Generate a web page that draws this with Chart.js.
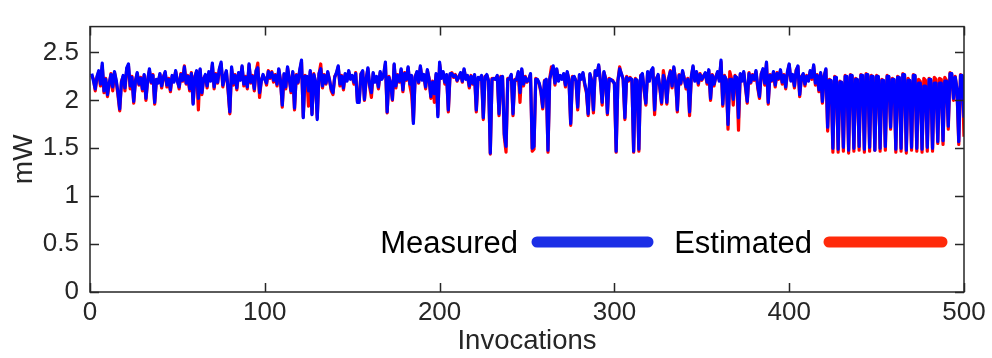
<!DOCTYPE html>
<html>
<head>
<meta charset="utf-8">
<script src="https://cdn.jsdelivr.net/npm/chart.js@4"></script>
<style>
html, body { margin: 0; padding: 0; background: #fff; }
#wrap { width: 992px; height: 358px; }
</style>
</head>
<body>
<div id="wrap"><canvas id="powerChart" width="992" height="358"></canvas></div>
<script>
// Potencia medida por invocacion (mW)
const measured = [
  2.28, 2.20, 2.12, 2.25, 2.31, 2.17, 2.39, 2.10, 2.22, 2.06,
  2.18, 2.27, 2.14, 2.30, 2.21, 2.08, 1.91, 2.19, 2.26, 2.13,
  2.34, 2.38, 2.15, 2.24, 1.99, 2.20, 2.29, 2.17, 2.23, 2.12,
  2.27, 2.02, 2.21, 2.33, 2.19, 2.26, 1.98, 2.22, 2.18, 2.28,
  2.15, 2.24, 2.30, 2.16, 2.22, 2.11, 2.26, 2.19, 2.31, 2.20,
  2.14, 2.27, 2.21, 2.35, 2.18, 2.25, 2.12, 2.28, 1.96, 2.24,
  2.31, 2.02, 2.33, 2.08, 2.22, 2.27, 2.15, 2.30, 2.20, 2.39,
  2.14, 2.27, 2.19, 2.33, 2.40, 2.16, 2.24, 2.31, 2.12, 1.88,
  2.35, 2.18, 2.26, 2.13, 2.29, 2.21, 2.36, 2.17, 2.24, 2.14,
  2.38, 2.19, 2.25, 2.12, 2.31, 2.34, 2.08, 2.20, 2.27, 2.22,
  2.18, 2.30, 2.24, 2.29, 2.21, 2.26, 2.17, 2.33, 2.20, 1.95,
  2.28, 2.14, 2.35, 2.22, 2.10, 2.30, 1.92, 2.26, 2.19, 2.32,
  2.42, 1.82, 2.25, 2.25, 2.10, 2.31, 1.85, 2.27, 2.20, 1.80,
  2.28, 2.33, 2.15, 2.26, 2.18, 2.30, 2.21, 2.12, 2.08, 2.24,
  2.29, 2.36, 2.17, 2.25, 2.13, 2.28, 2.20, 2.31, 2.22, 2.26,
  2.19, 2.28, 1.98, 1.98, 2.27, 2.31, 2.01, 2.22, 2.34, 2.16,
  2.08, 2.29, 2.19, 2.25, 2.14, 2.30, 2.22, 2.27, 2.40, 1.88,
  2.24, 2.18, 2.01, 2.38, 2.15, 2.26, 2.20, 2.33, 2.11, 2.28,
  2.22, 2.35, 2.17, 2.26, 1.76, 2.24, 2.30, 2.19, 2.36, 2.21,
  2.27, 2.14, 2.32, 2.22, 2.04, 2.19, 2.07, 2.28, 1.83, 2.40,
  2.23, 2.30, 2.19, 2.27, 1.90, 2.28, 2.28, 2.25, 2.26, 2.21,
  2.24, 2.29, 2.20, 2.33, 2.22, 2.26, 2.15, 2.25, 2.18, 2.27,
  1.90, 2.24, 2.22, 2.26, 1.82, 2.24, 2.27, 2.20, 1.45, 2.22,
  2.23, 2.22, 2.26, 1.86, 2.24, 2.25, 1.65, 1.52, 2.22, 2.23,
  2.27, 1.86, 2.21, 2.22, 2.30, 2.08, 2.33, 2.17, 2.24, 2.20,
  2.21, 2.28, 1.50, 1.52, 2.22, 2.22, 2.18, 2.10, 1.93, 2.20,
  2.22, 1.48, 2.22, 2.30, 2.36, 2.18, 2.33, 2.20, 2.26, 2.22,
  2.28, 2.16, 2.30, 2.21, 1.76, 2.24, 2.25, 2.20, 1.93, 2.27,
  2.22, 2.29, 2.18, 2.10, 1.86, 2.28, 2.20, 1.90, 2.31, 2.26,
  2.37, 2.20, 1.98, 2.30, 2.22, 1.87, 2.22, 2.22, 2.20, 2.18,
  1.47, 2.20, 2.33, 2.28, 2.22, 1.82, 2.24, 2.21, 2.23, 2.22,
  1.47, 2.22, 2.21, 1.49, 2.25, 2.28, 2.12, 1.97, 2.30, 2.20,
  2.31, 2.34, 1.90, 2.22, 2.27, 2.14, 1.98, 2.26, 2.20, 1.98,
  2.23, 2.30, 2.15, 2.35, 2.21, 1.90, 2.26, 2.18, 2.31, 2.22,
  2.14, 2.22, 1.88, 2.25, 2.36, 2.20, 2.30, 2.18, 2.27, 2.22,
  2.25, 2.29, 2.19, 2.32, 2.02, 2.26, 2.17, 2.24, 2.30, 2.20,
  2.42, 1.96, 2.25, 2.22, 1.75, 2.22, 2.22, 2.01, 2.25, 2.24,
  1.82, 2.28, 2.20, 2.30, 2.15, 1.99, 2.28, 2.19, 2.26, 2.22,
  2.31, 2.15, 2.04, 2.27, 2.33, 2.18, 2.40, 1.98, 2.26, 2.21,
  2.30, 2.16, 2.28, 2.23, 2.32, 2.19, 2.26, 2.14, 2.30, 2.38,
  2.20, 2.27, 2.15, 2.31, 2.36, 2.06, 2.24, 2.28, 2.17, 2.25,
  2.20, 2.31, 2.24, 2.37, 2.18, 2.26, 2.11, 2.29, 1.99, 2.25,
  2.33, 1.72, 2.21, 2.21, 1.50, 2.24, 2.24, 1.49, 2.19, 2.19,
  1.51, 2.25, 2.25, 1.48, 2.26, 2.26, 1.50, 2.22, 2.22, 1.52,
  2.26, 2.26, 1.49, 2.27, 2.27, 1.51, 2.25, 2.25, 1.48, 2.25,
  2.25, 1.50, 2.21, 2.21, 1.52, 2.25, 2.25, 1.72, 2.22, 2.22,
  1.49, 2.24, 2.24, 1.50, 2.27, 2.27, 1.48, 2.21, 2.21, 1.51,
  2.26, 2.26, 1.50, 2.18, 2.18, 1.49, 2.15, 2.15, 1.51, 2.22,
  2.22, 1.50, 2.18, 2.18, 1.57, 2.18, 2.18, 1.58, 2.20, 2.20,
  1.73, 2.28, 2.28, 2.02, 2.24, 2.12, 1.57, 2.26, 2.26, 1.82
];

// Potencia estimada por el modelo (mW)
const estimated = [
  2.26, 2.22, 2.10, 2.24, 2.30, 2.15, 2.36, 2.08, 2.23, 2.04,
  2.17, 2.28, 2.10, 2.29, 2.20, 2.05, 1.89, 2.20, 2.25, 2.10,
  2.33, 2.36, 2.12, 2.25, 1.97, 2.21, 2.28, 2.16, 2.24, 2.10,
  2.26, 2.00, 2.22, 2.31, 2.18, 2.27, 1.96, 2.21, 2.19, 2.27,
  2.13, 2.25, 2.29, 2.14, 2.23, 2.09, 2.25, 2.20, 2.30, 2.21,
  2.12, 2.28, 2.20, 2.36, 2.17, 2.26, 2.10, 2.29, 1.97, 2.25,
  2.30, 1.90, 2.32, 2.06, 2.23, 2.26, 2.13, 2.29, 2.21, 2.37,
  2.12, 2.28, 2.18, 2.32, 2.38, 2.14, 2.25, 2.30, 2.10, 1.86,
  2.33, 2.16, 2.27, 2.11, 2.28, 2.22, 2.35, 2.15, 2.25, 2.12,
  2.37, 2.18, 2.26, 2.10, 2.30, 2.39, 2.03, 2.21, 2.26, 2.23,
  2.16, 2.31, 2.23, 2.30, 2.19, 2.27, 2.15, 2.32, 2.21, 1.93,
  2.27, 2.12, 2.34, 2.23, 2.08, 2.29, 1.90, 2.27, 2.18, 2.31,
  2.40, 1.83, 2.26, 2.24, 1.94, 2.30, 1.86, 2.28, 2.19, 1.82,
  2.27, 2.38, 2.13, 2.27, 2.17, 2.29, 2.22, 2.10, 2.06, 2.25,
  2.28, 2.35, 2.15, 2.26, 2.11, 2.27, 2.21, 2.30, 2.23, 2.25,
  2.17, 2.29, 1.99, 2.00, 2.28, 2.30, 2.00, 2.23, 2.33, 2.14,
  2.03, 2.28, 2.20, 2.24, 2.12, 2.29, 2.23, 2.26, 2.38, 1.87,
  2.25, 2.17, 2.00, 2.37, 2.13, 2.27, 2.19, 2.32, 2.09, 2.29,
  2.21, 2.34, 2.15, 2.06, 1.78, 2.25, 2.29, 2.18, 2.35, 2.22,
  2.26, 2.12, 2.31, 2.23, 2.02, 2.20, 1.98, 2.27, 1.85, 2.38,
  2.24, 2.29, 2.17, 2.26, 1.88, 2.27, 2.29, 2.24, 2.27, 2.20,
  2.25, 2.28, 2.19, 2.32, 2.23, 2.25, 2.13, 2.26, 2.17, 2.26,
  1.88, 2.23, 2.23, 2.25, 1.80, 2.25, 2.26, 2.21, 1.44, 2.23,
  2.22, 2.23, 2.25, 1.84, 2.25, 2.24, 1.62, 1.46, 2.23, 2.22,
  2.26, 1.84, 2.22, 2.21, 2.29, 1.98, 2.32, 2.15, 2.25, 2.19,
  2.22, 2.27, 1.47, 1.49, 2.23, 2.21, 2.17, 2.08, 1.91, 2.21,
  2.21, 1.46, 2.23, 2.35, 2.34, 2.16, 2.32, 2.21, 2.25, 2.23,
  2.27, 2.14, 2.29, 2.22, 1.74, 2.25, 2.24, 2.21, 1.90, 2.26,
  2.23, 2.28, 2.16, 2.08, 1.84, 2.27, 2.21, 1.87, 2.30, 2.27,
  2.36, 2.21, 1.95, 2.29, 2.23, 1.85, 2.23, 2.21, 2.21, 2.17,
  1.46, 2.21, 2.35, 2.27, 2.23, 1.80, 2.25, 2.20, 2.24, 2.21,
  1.46, 2.23, 2.20, 1.47, 2.26, 2.27, 2.10, 1.95, 2.29, 2.21,
  2.30, 2.33, 1.85, 2.23, 2.26, 2.12, 1.96, 2.31, 2.21, 1.96,
  2.22, 2.31, 2.13, 2.34, 2.22, 1.88, 2.27, 2.17, 2.30, 2.23,
  2.12, 2.23, 1.84, 2.24, 2.35, 2.21, 2.29, 2.16, 2.28, 2.21,
  2.26, 2.28, 2.17, 2.31, 2.00, 2.27, 2.15, 2.25, 2.29, 2.21,
  2.40, 1.94, 2.26, 2.21, 1.70, 2.30, 2.23, 1.95, 2.26, 2.23,
  1.69, 2.27, 2.21, 2.29, 2.13, 1.97, 2.29, 2.18, 2.27, 2.21,
  2.30, 2.13, 2.02, 2.28, 2.32, 2.16, 2.39, 1.96, 2.27, 2.20,
  2.29, 2.14, 2.29, 2.22, 2.31, 2.17, 2.27, 2.12, 2.29, 2.37,
  2.21, 2.26, 2.13, 2.32, 2.35, 2.04, 2.25, 2.27, 2.15, 2.26,
  2.21, 2.30, 2.22, 2.36, 2.16, 2.27, 2.09, 2.28, 1.97, 2.26,
  2.32, 1.68, 2.22, 2.20, 1.46, 2.25, 2.23, 1.46, 2.20, 2.18,
  1.47, 2.26, 2.24, 1.45, 2.27, 2.25, 1.47, 2.23, 2.21, 1.48,
  2.27, 2.25, 1.46, 2.28, 2.26, 1.47, 2.26, 2.24, 1.48, 2.26,
  2.24, 1.47, 2.22, 2.20, 1.48, 2.26, 2.24, 1.70, 2.23, 2.21,
  1.46, 2.25, 2.23, 1.47, 2.28, 2.26, 1.45, 2.23, 2.20, 1.48,
  2.27, 2.25, 1.47, 2.22, 2.20, 1.46, 2.23, 2.21, 1.47, 2.23,
  2.21, 1.47, 2.24, 2.22, 1.55, 2.23, 2.22, 1.54, 2.24, 2.21,
  1.70, 2.29, 2.27, 2.00, 2.25, 2.10, 1.54, 2.27, 2.25, 1.62
];

const xTicks = [0, 100, 200, 300, 400, 500];
const yTicks = [0, 0.5, 1, 1.5, 2, 2.5];
const seriesNames = ['Measured', 'Estimated'];
const lineColors = ['#0000ff', '#ff0000'];
const legendColors = ['#1b2ee6', '#ff2a0a'];
const axisColor = '#262626';
const FONT = '"Liberation Sans", Arial, Helvetica, sans-serif';

// Marco completo con ticks hacia dentro (estilo MATLAB)
const boxPlugin = {
    id: 'boxAxes',
    afterDatasetsDraw(chart) {
        const { ctx, chartArea: a, scales: { x, y } } = chart;
        const len = 9;
        ctx.save();
        ctx.strokeStyle = axisColor;
        ctx.lineWidth = 1.5;
        ctx.strokeRect(a.left, a.top, a.right - a.left, a.bottom - a.top);
        ctx.beginPath();
        xTicks.forEach(v => {
            const px = Math.round(x.getPixelForValue(v)) + 0.5;
            ctx.moveTo(px, a.bottom); ctx.lineTo(px, a.bottom - len);
            ctx.moveTo(px, a.top); ctx.lineTo(px, a.top + len);
        });
        yTicks.forEach(v => {
            const py = Math.round(y.getPixelForValue(v)) + 0.5;
            ctx.moveTo(a.left, py); ctx.lineTo(a.left + len, py);
            ctx.moveTo(a.right, py); ctx.lineTo(a.right - len, py);
        });
        ctx.stroke();
        ctx.restore();
    }
};

// Leyenda: texto seguido de una linea gruesa
const legendPlugin = {
    id: 'lineLegend',
    afterDraw(chart) {
        const ctx = chart.ctx;
        const items = [
            { textEnd: 518, lineStart: 537, lineEnd: 648 },
            { textEnd: 812, lineStart: 829, lineEnd: 942 }
        ];
        ctx.save();
        ctx.font = '31px ' + FONT;
        ctx.textAlign = 'right';
        ctx.textBaseline = 'alphabetic';
        items.forEach((it, i) => {
            ctx.fillStyle = '#000';
            ctx.fillText(seriesNames[i], it.textEnd, 253);
            ctx.strokeStyle = legendColors[i];
            ctx.lineWidth = 11;
            ctx.lineCap = 'round';
            ctx.beginPath();
            ctx.moveTo(it.lineStart, 242);
            ctx.lineTo(it.lineEnd, 242);
            ctx.stroke();
        });
        ctx.restore();
    }
};

function toPoints(values) {
    return values.map((v, i) => ({ x: i + 1, y: v }));
}

document.addEventListener('DOMContentLoaded', function() {
    const ctx = document.getElementById('powerChart');
    new Chart(ctx, {
        type: 'line',
        data: {
            datasets: [
                { label: seriesNames[0], data: toPoints(measured), borderColor: lineColors[0], borderWidth: 3.2, pointRadius: 0, borderJoinStyle: 'round', tension: 0 },
                { label: seriesNames[1], data: toPoints(estimated), borderColor: lineColors[1], borderWidth: 3.2, pointRadius: 0, borderJoinStyle: 'round', tension: 0 }
            ]
        },
        options: {
            responsive: false,
            animation: false,
            devicePixelRatio: 1,
            layout: { padding: { top: 9, right: 28, left: 0, bottom: 0 } },
            plugins: { legend: { display: false }, tooltip: { enabled: false } },
            scales: {
                x: {
                    type: 'linear', min: 0, max: 500,
                    grid: { display: false, drawTicks: false },
                    border: { display: false },
                    afterBuildTicks: s => { s.ticks = xTicks.map(v => ({ value: v })); },
                    afterFit: s => { s.height = 66; },
                    ticks: { padding: 5, color: axisColor, autoSkip: false, maxRotation: 0, font: { family: FONT, size: 26 }, callback: v => String(v) },
                    title: { display: true, text: 'Invocations', color: axisColor, font: { family: FONT, size: 27.5 }, padding: { top: 0, bottom: 0 } }
                },
                y: {
                    min: 0, max: 2.77,
                    grid: { display: false, drawTicks: false },
                    border: { display: false },
                    afterBuildTicks: s => { s.ticks = yTicks.map(v => ({ value: v })); },
                    afterFit: s => { s.width = 90; },
                    ticks: { padding: 11, color: axisColor, font: { family: FONT, size: 26 }, callback: v => String(v) },
                    title: { display: true, text: 'mW', color: axisColor, font: { family: FONT, size: 28 }, padding: { top: 7, bottom: 0 } }
                }
            }
        },
        plugins: [boxPlugin, legendPlugin]
    });
});
</script>
</body>
</html>
